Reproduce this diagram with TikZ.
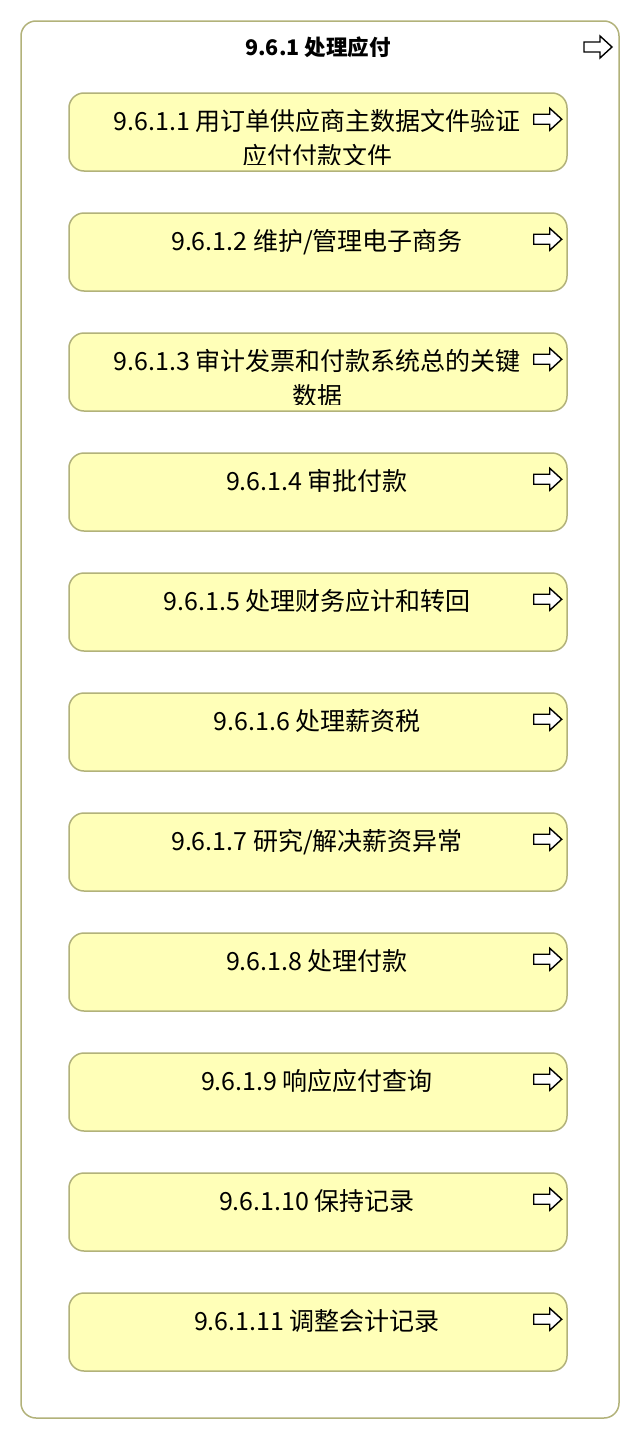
\documentclass[tikz,border=0pt]{standalone}
\usepackage{fontspec}
\setmainfont{Noto Sans CJK SC}
\definecolor{boxfill}{HTML}{FFFFB8}
\definecolor{boxline}{HTML}{B2B27A}
\tikzset{
  outerbox/.style={draw=boxline, line width=1.5pt, fill=white, rounded corners=15pt},
  procbox/.style={draw=boxline, line width=1.5pt, fill=boxfill, rounded corners=15pt,
    minimum width=498pt, minimum height=78pt, inner sep=0pt},
  proctext/.style={font=\fontsize{25}{35}\selectfont, align=center, anchor=north, inner sep=0pt},
  titletext/.style={font=\bfseries\fontsize{21.5}{24}\selectfont, inner sep=0pt},
  arrowicon/.style={draw=black, line width=1.4pt, fill=white, line join=miter}
}
\newcommand{\flowarrow}[1]{%
  \draw[arrowicon] ([shift={(-14pt,-5pt)}]#1) -- ([shift={(2pt,-5pt)}]#1) -- ([shift={(2pt,-11pt)}]#1)
    -- ([shift={(14pt,0pt)}]#1) -- ([shift={(2pt,11pt)}]#1) -- ([shift={(2pt,5pt)}]#1)
    -- ([shift={(-14pt,5pt)}]#1) -- cycle;}
\begin{document}
\begin{tikzpicture}[x=1pt,y=1pt]
\useasboundingbox (0,0) rectangle (640,-1440);
\draw[outerbox] (21,-21) rectangle (619,-1418);
\node[titletext] (title) at (318,-47) {9.6.1 处理应付};
\coordinate (ta) at (598,-47);
\flowarrow{ta}
\foreach \i/\txt in {1/{9.6.1.1 用订单供应商主数据文件验证\\应付付款文件},
                     2/{9.6.1.2 维护/管理电子商务},
                     3/{9.6.1.3 审计发票和付款系统总的关键\\数据},
                     4/{9.6.1.4 审批付款},
                     5/{9.6.1.5 处理财务应计和转回},
                     6/{9.6.1.6 处理薪资税},
                     7/{9.6.1.7 研究/解决薪资异常},
                     8/{9.6.1.8 处理付款},
                     9/{9.6.1.9 响应应付查询},
                     10/{9.6.1.10 保持记录},
                     11/{9.6.1.11 调整会计记录}}{
  \pgfmathsetmacro{\yc}{-(132+120*(\i-1))}
  \node[procbox] (b\i) at (318,\yc) {};
  \begin{scope}
    \clip ([shift={(6pt,7pt)}]b\i.south west) rectangle ([shift={(-6pt,-2pt)}]b\i.north east);
    \node[proctext] (t\i) at ([shift={(-1pt,-17pt)}]b\i.north) {\txt};
  \end{scope}
  \coordinate (a\i) at ([shift={(-20pt,-27pt)}]b\i.north east);
  \flowarrow{a\i}
}
\end{tikzpicture}
\end{document}
